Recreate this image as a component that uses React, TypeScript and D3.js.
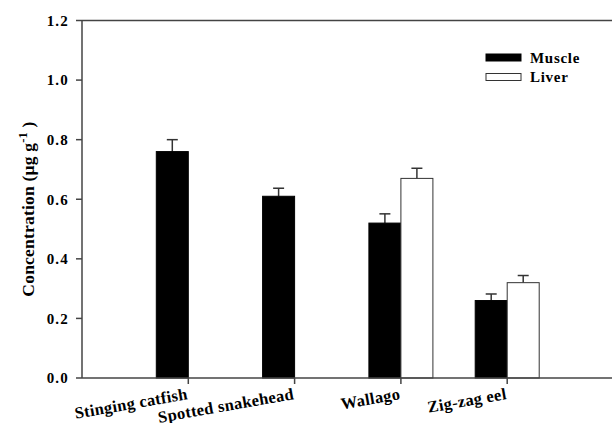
import React from "react";
import * as d3 from "d3";

const categories = ["Stinging catfish", "Spotted snakehead", "Wallago", "Zig-zag eel"];
const muscle = [0.76, 0.61, 0.52, 0.26];
const muscleErr = [0.04, 0.027, 0.031, 0.022];
const liver: (number | null)[] = [null, null, 0.67, 0.32];
const liverErr: (number | null)[] = [null, null, 0.034, 0.024];
const yTicks = [0, 0.2, 0.4, 0.6, 0.8, 1.0, 1.2];
const seriesNames = ["Muscle", "Liver"];

const W = 612;
const H = 423;
const FONT = "'Liberation Serif', 'Times New Roman', serif";

export default function App() {
  const x = d3.scaleLinear().domain([0, 5]).range([82, 613.5]);
  const y = d3.scaleLinear().domain([0, 1.2]).range([378, 20.5]);
  const barW = 32;
  const capW = 11;
  const axisColor = "#444";

  const bars: JSX.Element[] = [];
  categories.forEach((c, i) => {
    const cx = x(i + 1);
    const series = [
      { v: muscle[i], e: muscleErr[i], x0: cx - barW, fill: "#000", stroke: "#000" },
      { v: liver[i], e: liverErr[i], x0: cx, fill: "#fff", stroke: "#333" },
    ];
    series.forEach((s, j) => {
      if (s.v == null) return;
      const top = y(s.v);
      const mid = s.x0 + barW / 2;
      const errTop = y(s.v + (s.e ?? 0));
      bars.push(
        <g key={`${i}-${j}`}>
          <line x1={mid} x2={mid} y1={top} y2={errTop} stroke="#333" strokeWidth={1.5} />
          <line x1={mid - capW / 2} x2={mid + capW / 2} y1={errTop} y2={errTop} stroke="#333" strokeWidth={1.5} />
          <rect x={s.x0} y={top} width={barW} height={y(0) - top} fill={s.fill} stroke={s.stroke} strokeWidth={1} />
        </g>
      );
    });
  });

  return (
    <svg width={W} height={H} style={{ position: "absolute", left: 0, top: 0 }} fontFamily={FONT}>
      <rect width={W} height={H} fill="#fff" />
      {bars}
      {/* axes */}
      <line x1={82} x2={W} y1={y(1.2)} y2={y(1.2)} stroke={axisColor} strokeWidth={1.5} />
      <line x1={82} x2={W} y1={y(0)} y2={y(0)} stroke={axisColor} strokeWidth={1.5} />
      <line x1={82} x2={82} y1={y(1.2)} y2={y(0)} stroke={axisColor} strokeWidth={1.5} />
      {yTicks.map((t) => (
        <g key={t}>
          <line x1={76} x2={82} y1={y(t)} y2={y(t)} stroke={axisColor} strokeWidth={1.5} />
          <text x={69} y={y(t)} dy="0.35em" textAnchor="end" fontSize={15} letterSpacing={1.2} fontWeight="bold" fill="#000">
            {t.toFixed(1)}
          </text>
        </g>
      ))}
      {categories.map((c, i) => (
        <g key={c}>
          <line x1={x(i + 1)} x2={x(i + 1)} y1={y(0)} y2={y(0) + 6} stroke={axisColor} strokeWidth={1.5} />
          <text
            transform={`translate(${x(i + 1)},${399}) rotate(-10)`}
            textAnchor="end"
            fontSize={16.5}
            letterSpacing={0.3}
            fontWeight="bold"
            fill="#000"
          >
            {c}
          </text>
        </g>
      ))}
      {/* y title */}
      <text
        transform={`translate(34,${209}) rotate(-90)`}
        textAnchor="middle"
        fontSize={17.5}
        letterSpacing={0.2}
        fontWeight="bold"
        fill="#000"
      >
        Concentration (µg g
        <tspan dy={-7} fontSize={12.5}>-1</tspan>
        <tspan dy={7}> )</tspan>
      </text>
      {/* legend */}
      {seriesNames.map((n, i) => (
        <g key={n}>
          <rect
            x={486}
            y={54 + i * 19.5}
            width={35}
            height={7}
            fill={i === 0 ? "#000" : "#fff"}
            stroke={i === 0 ? "#000" : "#333"}
            strokeWidth={1}
          />
          <text x={530} y={63 + i * 19} fontSize={15} letterSpacing={0.7} fontWeight="bold" fill="#000">
            {n}
          </text>
        </g>
      ))}
    </svg>
  );
}
